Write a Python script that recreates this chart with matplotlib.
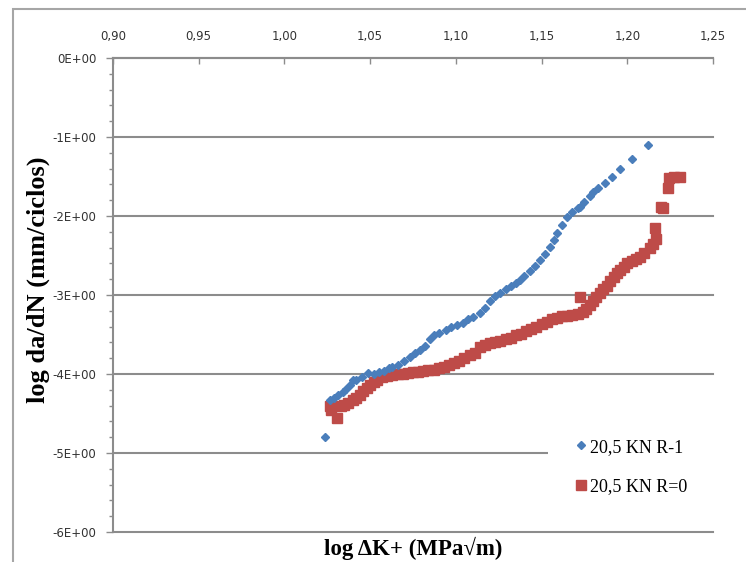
import matplotlib.pyplot as plt
from matplotlib.patches import Rectangle
from matplotlib.ticker import MultipleLocator

# 20,5 KN R-1
x_r1 = [1.0237, 1.0266, 1.029, 1.031, 1.034, 1.036, 1.038, 1.040, 1.042, 1.045,
        1.0488, 1.052, 1.055, 1.058, 1.061, 1.063, 1.066, 1.070, 1.073, 1.076,
        1.079, 1.082, 1.085, 1.087, 1.090, 1.094, 1.097, 1.1007, 1.104, 1.107,
        1.110, 1.114, 1.117, 1.120, 1.123, 1.126, 1.129, 1.132, 1.135, 1.1375,
        1.140, 1.143, 1.146, 1.149, 1.152, 1.155, 1.157, 1.159, 1.162, 1.165,
        1.168, 1.171, 1.1725, 1.175, 1.178, 1.180, 1.183, 1.187, 1.191, 1.196,
        1.203, 1.212]
y_r1 = [-4.80, -4.33, -4.30, -4.27, -4.23, -4.19, -4.14, -4.08, -4.07, -4.04,
        -3.99, -4.00, -3.98, -3.96, -3.93, -3.91, -3.89, -3.84, -3.79, -3.74,
        -3.70, -3.64, -3.56, -3.51, -3.48, -3.44, -3.41, -3.38, -3.35, -3.31,
        -3.28, -3.23, -3.17, -3.08, -3.01, -2.97, -2.93, -2.89, -2.85, -2.81,
        -2.76, -2.70, -2.63, -2.56, -2.48, -2.39, -2.30, -2.22, -2.12, -2.01,
        -1.95, -1.90, -1.88, -1.82, -1.75, -1.69, -1.64, -1.58, -1.50, -1.40,
        -1.28, -1.10]

# 20,5 KN R=0
x_r0 = [1.0266, 1.0270, 1.0307, 1.033, 1.035, 1.037, 1.040, 1.042, 1.044, 1.046,
        1.048, 1.050, 1.052, 1.054, 1.057, 1.060, 1.063, 1.066, 1.069, 1.072,
        1.075, 1.078, 1.081, 1.084, 1.087, 1.090, 1.093, 1.096, 1.099, 1.102,
        1.105, 1.108, 1.111, 1.114, 1.117, 1.120, 1.123, 1.126, 1.129, 1.132,
        1.135, 1.138, 1.141, 1.144, 1.147, 1.150, 1.153, 1.156, 1.159, 1.162,
        1.165, 1.168, 1.171, 1.1725, 1.174, 1.176, 1.178, 1.180, 1.182, 1.184,
        1.186, 1.188, 1.190, 1.192, 1.194, 1.196, 1.198, 1.200, 1.203, 1.205,
        1.2075, 1.210, 1.2133, 1.215, 1.217, 1.216, 1.2195, 1.2210, 1.2235, 1.2245,
        1.227, 1.231]
y_r0 = [-4.40, -4.45, -4.56, -4.40, -4.39, -4.37, -4.33, -4.30, -4.26, -4.22,
        -4.18, -4.14, -4.10, -4.07, -4.04, -4.02, -4.01, -4.00, -4.00, -3.99,
        -3.98, -3.97, -3.96, -3.95, -3.95, -3.93, -3.91, -3.88, -3.86, -3.83,
        -3.80, -3.76, -3.73, -3.66, -3.63, -3.61, -3.60, -3.58, -3.56, -3.54,
        -3.51, -3.49, -3.46, -3.43, -3.40, -3.37, -3.34, -3.31, -3.29, -3.27,
        -3.26, -3.25, -3.24, -3.02, -3.22, -3.18, -3.13, -3.08, -3.02, -2.97,
        -2.93, -2.88, -2.82, -2.77, -2.72, -2.68, -2.64, -2.60, -2.57, -2.55,
        -2.52, -2.47, -2.40, -2.35, -2.29, -2.15, -1.88, -1.90, -1.64, -1.52,
        -1.51, -1.51]

x_ticks = [0.90, 0.95, 1.00, 1.05, 1.10, 1.15, 1.20, 1.25]
x_ticklabels = ["0,90", "0,95", "1,00", "1,05", "1,10", "1,15", "1,20", "1,25"]
y_ticks = [0, -1, -2, -3, -4, -5, -6]
y_ticklabels = ["0E+00", "-1E+00", "-2E+00", "-3E+00", "-4E+00", "-5E+00", "-6E+00"]

blue = "#4A7EBB"
red = "#BE4B48"
grey = "#8C8C8C"

W, H = 746, 562
fig = plt.figure(figsize=(W / 100, H / 100), dpi=100)
ax = fig.add_axes([113 / W, 1 - 532 / H, 600 / W, 474 / H])

# outer chart frame (runs off the right and bottom edges)
fig.patches.append(Rectangle((13 / W, -0.2), 1.2, 0.2 + (1 - 9 / H),
                             transform=fig.transFigure, fill=False,
                             edgecolor="#A6A6A6", linewidth=1.5))

ax.plot(x_r1, y_r1, linestyle="none", marker="D", ms=4.4, color=blue,
        mec=blue, label="20,5 KN R-1", zorder=4)
ax.plot(x_r0, y_r0, linestyle="none", marker="s", ms=6.5, color=red,
        mec=red, label="20,5 KN R=0", zorder=3)

ax.set_xlim(0.90, 1.25)
ax.set_ylim(-6, 0)

ax.xaxis.tick_top()
ax.set_xticks(x_ticks)
ax.set_xticklabels(x_ticklabels, fontsize=8.5, color="#333333")
ax.tick_params(axis="x", direction="in", length=4, width=1, color=grey, pad=11)

ax.set_yticks(y_ticks)
ax.set_yticklabels(y_ticklabels, fontsize=8.5, color="#333333")
ax.yaxis.set_minor_locator(MultipleLocator(0.2))
ax.tick_params(axis="y", which="major", direction="out", length=5, width=1,
               color=grey, pad=7)
ax.tick_params(axis="y", which="minor", direction="out", length=3, width=1,
               color=grey)

for y in y_ticks:
    ax.axhline(y, color=grey, linewidth=1.5, zorder=1, clip_on=False)

for s in ["right", "bottom"]:
    ax.spines[s].set_visible(False)
for s in ["top", "left"]:
    ax.spines[s].set_color(grey)
    ax.spines[s].set_linewidth(1.5)

ax.set_ylabel("log da/dN (mm/ciclos)", family="Liberation Serif",
              fontweight="bold", fontsize=19)
ax.yaxis.set_label_coords((50 - 113) / 600, (532 - 280) / 474)
fig.text(413 / W, 1 - 548 / H, "log \u0394K+ (MPa\u221am)",
         family="Liberation Serif", fontweight="bold", fontsize=16.5,
         ha="center", va="center")

# white legend area over the gridline
ax.add_patch(Rectangle(((548 - 113) / 600, (532 - 512) / 474), 175 / 600, 92 / 474,
                       transform=ax.transAxes, facecolor="white", edgecolor="none",
                       zorder=2, clip_on=False))
leg = ax.legend(loc="center left",
                bbox_to_anchor=((561 - 113) / 600, (532 - 467) / 474),
                frameon=False, prop={"family": "Liberation Serif", "size": 13},
                handletextpad=0.1, handlelength=0.8, labelspacing=1.25,
                borderpad=0.2)
leg.set_zorder(5)

fig.savefig("out.png", dpi=100)
